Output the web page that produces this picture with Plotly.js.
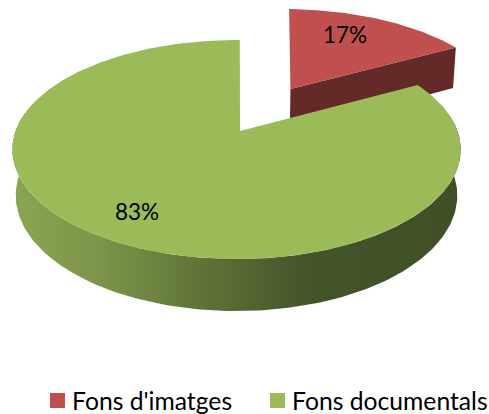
<!DOCTYPE html>
<html><head><meta charset="utf-8">
<script src="https://cdn.plot.ly/plotly-3.0.1.min.js"></script>
<style>html,body{margin:0;padding:0;background:#fff}#c{width:489px;height:414px}</style>
</head><body><div id="c"></div>
<script>
const categories = ["Fons d'imatges", "Fons documentals"];
const values = [17, 83];
const topColors = ['#c0504d', '#9bbb59'];
const sideRed = '#642a28';
const wallStops = [[0,'#8ba552'],[0.2,'#7b9448'],[0.42,'#5f7437'],[0.66,'#44552a'],[1,'#3f4f26']];

// view of the tilted disc, in page pixels
const view = {cx:240, cy:131, A:106.4, B:221, k:0.169, H:45.9, w:0.015, explode:0.49};
const rimShiftX = -3.5, rimRotate = 1, redRotate = 1.5;
const rad = d => d*Math.PI/180;
function project(X, Y, low, dx){
  const den = 1 - view.k*Y + (low ? view.w : 0);
  return [view.cx + (dx||0) + view.B*X/den, view.cy + (view.A*Y + (low ? view.H : 0))/den];
}
function rim(a0, a1, ox, oy, low, dx){
  const n = Math.max(2, Math.ceil(Math.abs(a1-a0)));
  const pts = [];
  for(let i=0;i<=n;i++){
    const a = rad(a0+(a1-a0)*i/n);
    pts.push(project(ox+Math.sin(a), oy-Math.cos(a), low, dx));
  }
  return pts;
}
const poly = (pts, extra) => Object.assign({
  x: pts.map(p=>p[0]), y: pts.map(p=>p[1]), mode:'lines', fill:'toself',
  line:{width:0}, showlegend:false, hoverinfo:'skip'
}, extra);

const total = values[0]+values[1];
const sweep = 360*values[0]/total;
const mid = rad(sweep/2);
const ox = view.explode*Math.sin(mid), oy = -view.explode*Math.cos(mid);

const traces = [];
// red slice: walls then top
const rEndT = rim(sweep, sweep, ox, oy, false)[0];
const rEndB = rim(sweep, sweep, ox, oy, true)[0];
const apexT = project(ox, oy, false, -1), apexB = project(ox, oy, true, -1);
traces.push(poly([apexT, rEndT, rEndB, apexB, apexT], {fillcolor:sideRed}));
const rArcT = rim(redRotate, sweep, ox, oy, false);
traces.push(poly([apexT, ...rArcT, apexT], {fillcolor:topColors[0]}));

// green slice: outer wall with horizontal shading, then top
const wallStart = sweep + 20, wallEnd = 280;
const gT = rim(wallStart, wallEnd, 0, 0, false, rimShiftX), gB = rim(wallStart, wallEnd, 0, 0, true, rimShiftX);
traces.push(poly([...gT, ...gB.slice().reverse(), gT[0]], {
  fillcolor:'#5f7437',
  fillgradient:{type:'horizontal', colorscale:wallStops}
}));
const gArc = rim(sweep+rimRotate, 360+rimRotate, 0, 0, false, rimShiftX);
const gApex = project(0,0,false);
traces.push(poly([gApex, ...gArc, gApex], {fillcolor:topColors[1]}));

// legend: swatches and labels
const legendY = 400.5, legendSwatchX = [57.5, 277.5], legendTextX = [72, 292];
traces.push({
  x:legendSwatchX, y:[legendY,legendY], mode:'markers', type:'scatter', showlegend:false,
  marker:{symbol:'square', size:15, color:topColors, line:{width:0}}, hoverinfo:'skip'
});

const font = {family:'Lato, Carlito, sans-serif', color:'#000'};
const layout = {
  width:489, height:414, margin:{l:0,r:0,t:0,b:0},
  paper_bgcolor:'#fff', plot_bgcolor:'#fff',
  xaxis:{range:[0,489], visible:false, fixedrange:true},
  yaxis:{range:[414,0], visible:false, fixedrange:true},
  showlegend:false,
  annotations:[
    {x:345,y:34,text:values[0]+'%',showarrow:false,font:Object.assign({size:22.5},font)},
    {x:137,y:211,text:values[1]+'%',showarrow:false,font:Object.assign({size:22.5},font)},
    ...categories.map((c,i)=>({x:legendTextX[i],y:legendY,xanchor:'left',xshift:-2,text:c,showarrow:false,
      font:Object.assign({size:24.7},font)}))
  ]
};
Plotly.newPlot('c', traces, layout, {displayModeBar:false, staticPlot:true});
</script></body></html>
